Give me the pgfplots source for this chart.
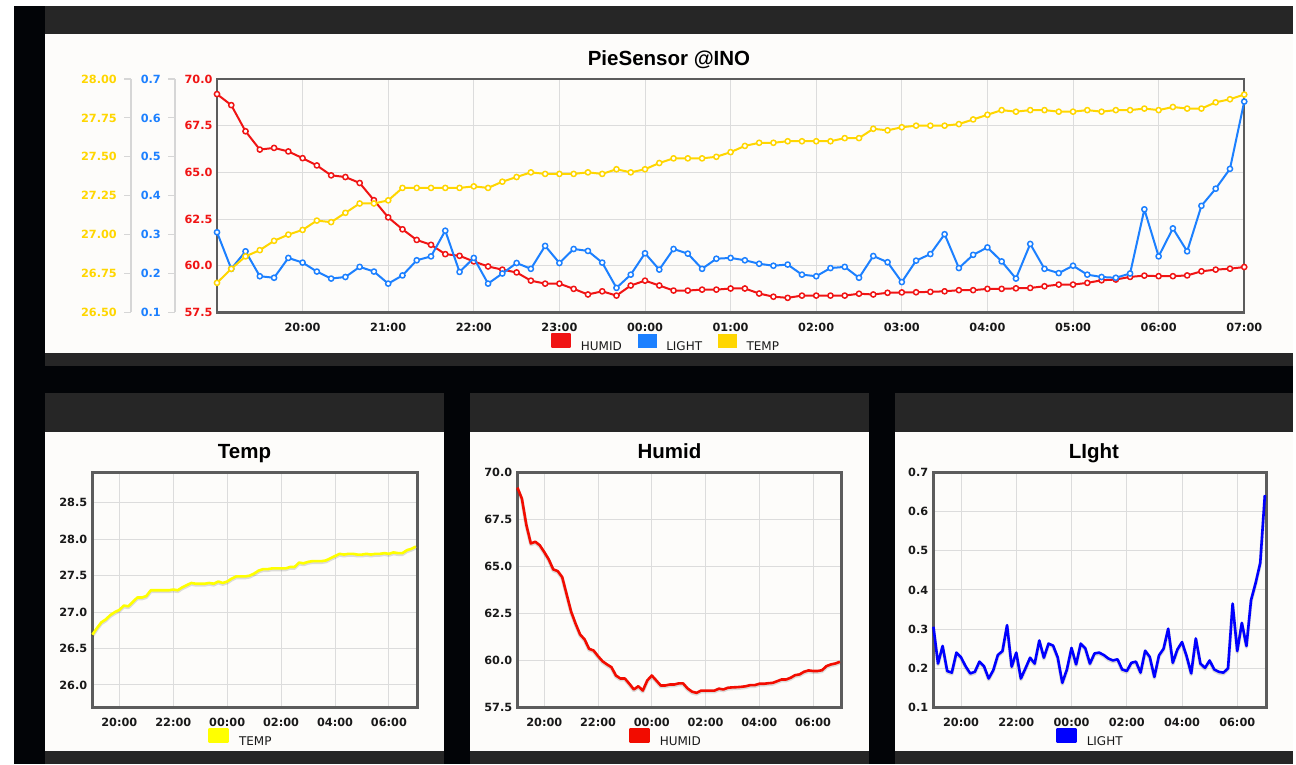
\documentclass[border=0pt]{standalone}
\usepackage{pgfplots}
\pgfplotsset{compat=1.18}
\usepackage{pgfplotstable}
\usepackage{fontspec}
\setmainfont{Liberation Sans}
\newfontfamily\flotfont{DejaVu Sans}

\definecolor{cHumid}{RGB}{240,20,20}
\definecolor{cLight}{RGB}{28,128,255}
\definecolor{cTemp}{RGB}{255,214,0}
\definecolor{cHumidB}{RGB}{242,12,0}
\definecolor{cLightB}{RGB}{0,0,255}
\definecolor{cTempB}{RGB}{255,255,0}
\definecolor{cPanel}{RGB}{253,252,250}
\definecolor{cHeader}{RGB}{38,38,38}
\definecolor{cBack}{RGB}{2,4,7}
\definecolor{cFrame}{RGB}{92,92,92}
\definecolor{cGrid}{RGB}{220,220,220}
\definecolor{cSide}{RGB}{214,214,214}

% one reading every 10 minutes, t = minutes after 19:00
\pgfplotstableread{
t   humid  light  temp
0   69.19  0.306  26.69
10  68.60  0.212  26.78
20  67.20  0.257  26.86
30  66.22  0.193  26.90
40  66.31  0.189  26.96
50  66.12  0.240  27.00
60  65.76  0.228  27.03
70  65.37  0.205  27.09
80  64.84  0.187  27.08
90  64.75  0.191  27.14
100 64.43  0.217  27.20
110 63.51  0.205  27.20
120 62.59  0.174  27.22
130 61.95  0.195  27.30
140 61.38  0.234  27.30
150 61.12  0.244  27.30
160 60.62  0.310  27.30
170 60.53  0.204  27.30
180 60.23  0.240  27.31
190 59.96  0.174  27.30
200 59.79  0.200  27.34
210 59.64  0.227  27.37
220 59.20  0.212  27.40
230 59.04  0.271  27.39
240 59.04  0.227  27.39
250 58.76  0.263  27.39
260 58.46  0.258  27.40
270 58.63  0.228  27.39
280 58.40  0.163  27.42
290 58.94  0.197  27.40
300 59.20  0.252  27.42
310 58.94  0.210  27.46
320 58.67  0.263  27.49
330 58.67  0.251  27.49
340 58.72  0.212  27.49
350 58.72  0.238  27.50
360 58.78  0.240  27.53
370 58.78  0.234  27.57
380 58.51  0.225  27.59
390 58.34  0.220  27.59
400 58.28  0.223  27.60
410 58.40  0.197  27.60
420 58.40  0.193  27.60
430 58.40  0.214  27.60
440 58.40  0.217  27.62
450 58.50  0.189  27.62
460 58.46  0.245  27.68
470 58.55  0.229  27.67
480 58.57  0.178  27.69
490 58.58  0.233  27.70
500 58.60  0.250  27.70
510 58.63  0.301  27.70
520 58.69  0.214  27.71
530 58.69  0.248  27.74
540 58.76  0.267  27.77
550 58.76  0.231  27.80
560 58.79  0.187  27.79
570 58.81  0.276  27.80
580 58.90  0.212  27.80
590 58.99  0.201  27.79
600 58.99  0.220  27.79
610 59.08  0.197  27.80
620 59.22  0.191  27.79
630 59.26  0.189  27.80
640 59.40  0.200  27.80
650 59.47  0.365  27.81
660 59.44  0.244  27.80
670 59.44  0.316  27.82
680 59.48  0.257  27.81
690 59.70  0.374  27.81
700 59.79  0.418  27.85
710 59.84  0.469  27.87
720 59.93  0.642  27.90
}\sensor

\pgfplotsset{
  panel/.style={
    scale only axis, anchor=south west, clip=false,
    axis line style={draw=cFrame, line width=2.5pt},
    grid=major, grid style={draw=cGrid, line width=0.9pt},
    major tick length=0pt,
    /pgf/number format/assume math mode=true,
    tick label style={font=\flotfont\bfseries\fontsize{11.3}{13}\selectfont, text=black!90},
    xticklabel style={anchor=north, inner sep=0pt, yshift=-10.5pt},
    yticklabel style={anchor=east, inner sep=0pt, xshift=-5pt,
      /pgf/number format/fixed, /pgf/number format/fixed zerofill,
      /pgf/number format/precision=1},
    legend style={draw=none, fill=none, inner sep=0pt, anchor=center,
      font=\flotfont\fontsize{12}{14}\selectfont, text=black!90,
      nodes={inner sep=0pt},
      /tikz/every odd column/.append style={column sep=10pt},
      /tikz/every even column/.append style={column sep=16pt}},
    legend image code/.code={\path (0pt,0pt) (18pt,20pt);
      \fill[##1] (0pt,0pt) rectangle (18pt,13pt);},
  },
  sideaxis/.style={
    scale only axis, anchor=south west, width=10pt, height=233.4pt,
    xmin=0, xmax=1, axis x line=none, axis y line*=left,
    y axis line style={draw=cSide, line width=1.2pt},
    tick align=outside, major tick length=7pt,
    tick style={draw=cSide, line width=1.2pt},
    /pgf/number format/assume math mode=true,
    yticklabel style={font=\flotfont\bfseries\fontsize{11.3}{13}\selectfont,
      anchor=east, inner sep=0pt, xshift=-7pt,
      /pgf/number format/fixed, /pgf/number format/fixed zerofill},
  },
  topdata/.style={
    scale only axis, anchor=south west, hide axis, clip=false,
    at={(217pt,451.6pt)}, width=1027.3pt, height=233.4pt,
    xmin=0, xmax=720,
  },
  dots/.style={line width=2pt, line join=round, mark=*, mark size=2.6pt,
    mark options={fill=white, line width=1.5pt}},
  shade/.style={black, opacity=0.13, line width=3.4pt, line join=round,
    yshift=-1.2pt, forget plot},
  bottom/.style={
    panel, width=#1, height=235.2pt, xmin=0, xmax=724,
    xtick={60,180,300,420,540,660},
    xticklabels={20:00,22:00,00:00,02:00,04:00,06:00},
  },
}

\begin{document}
\begin{tikzpicture}[x=1pt,y=1pt]
% page and panels
\fill[white] (0,0) rectangle (1296,764);
\fill[cBack] (14,0) rectangle (1293,758);
\fill[cHeader] (45,730) rectangle (1293,758);
\fill[cPanel] (45,411) rectangle (1293,730);
\fill[cHeader] (45,398) rectangle (1293,411);
\foreach \a/\b in {45/444, 470/869, 895/1293}{
  \fill[cHeader] (\a,332) rectangle (\b,371);
  \fill[cPanel] (\a,13) rectangle (\b,332);
  \fill[cHeader] (\a,0) rectangle (\b,13);
}

% titles
\node[anchor=base, font=\bfseries\fontsize{20.5}{24}\selectfont] at (669,698.5) {PieSensor @INO};
\node[anchor=base, font=\bfseries\fontsize{20.5}{24}\selectfont] at (244.5,305.7) {Temp};
\node[anchor=base, font=\bfseries\fontsize{20.5}{24}\selectfont] at (669.5,305.7) {Humid};
\node[anchor=base, font=\bfseries\fontsize{20.5}{24}\selectfont] at (1094,305.7) {LIght};

% ---- top chart: three y axes ----
\begin{axis}[sideaxis, at={(131pt,451.6pt)}, ymin=26.5, ymax=28,
  ytick={26.5,26.75,27,27.25,27.5,27.75,28},
  yticklabel style={text=cTemp, /pgf/number format/precision=2}]
\addplot[draw=none] coordinates {(0,27)};
\end{axis}
\begin{axis}[sideaxis, at={(175pt,451.6pt)}, ymin=0.1, ymax=0.7,
  ytick={0.1,0.2,0.3,0.4,0.5,0.6,0.7},
  yticklabel style={text=cLight, /pgf/number format/precision=1}]
\addplot[draw=none] coordinates {(0,0.4)};
\end{axis}

\begin{axis}[panel, at={(217pt,451.6pt)}, width=1027.3pt, height=233.4pt,
  xmin=0, xmax=720, ymin=57.5, ymax=70,
  xtick={60,120,180,240,300,360,420,480,540,600,660,720},
  xticklabels={20:00,21:00,22:00,23:00,00:00,01:00,02:00,03:00,04:00,05:00,06:00,07:00},
  ytick={57.5,60,62.5,65,67.5,70},
  yticklabel style={text=cHumid, xshift=0.7pt},
  legend columns=3, legend style={at={(0.4361,-0.1149)}}]
\addplot[cHumid, dots] table[x=t, y=humid] {\sensor};
\addlegendentry{HUMID}
\addlegendimage{cLight}
\addlegendentry{LIGHT}
\addlegendimage{cTemp}
\addlegendentry{TEMP}
\end{axis}

\begin{axis}[topdata, ymin=0.1, ymax=0.7]
\addplot[cLight, dots] table[x=t, y=light] {\sensor};
\end{axis}
\begin{axis}[topdata, ymin=26.5, ymax=28]
\addplot[cTemp, dots] table[x=t, y=temp] {\sensor};
\end{axis}

% ---- bottom charts ----
\begin{axis}[bottom=325.3pt, at={(92.4pt,56.5pt)},
  ymin=25.69, ymax=28.92, ytick={26,26.5,27,27.5,28,28.5},
  legend style={at={(0.4537,-0.113)}}]
\addplot[shade] table[x=t, y=temp] {\sensor};
\addplot[cTempB, line width=2.6pt, line join=round] table[x=t, y=temp] {\sensor};
\addlegendentry{TEMP}
\end{axis}

\begin{axis}[bottom=324.3pt, at={(517.4pt,56.5pt)},
  ymin=57.5, ymax=70, ytick={57.5,60,62.5,65,67.5,70},
  legend style={at={(0.4551,-0.113)}}]
\addplot[shade] table[x=t, y=humid] {\sensor};
\addplot[cHumidB, line width=2.6pt, line join=round] table[x=t, y=humid] {\sensor};
\addlegendentry{HUMID}
\end{axis}

\begin{axis}[bottom=333.3pt, at={(933.4pt,56.5pt)},
  ymin=0.1, ymax=0.7, ytick={0.1,0.2,0.3,0.4,0.5,0.6,0.7},
  legend style={at={(0.468,-0.113)}}]
\addplot[shade] table[x=t, y=light] {\sensor};
\addplot[cLightB, line width=2.6pt, line join=round] table[x=t, y=light] {\sensor};
\addlegendentry{LIGHT}
\end{axis}
\end{tikzpicture}
\end{document}
